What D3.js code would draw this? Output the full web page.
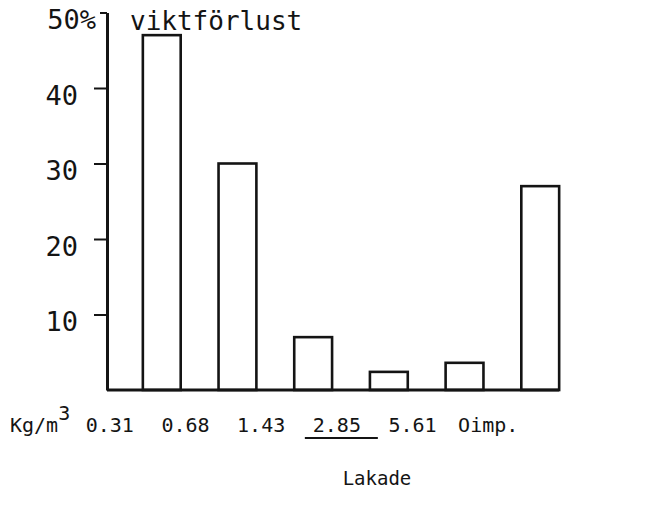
<html>

<head>
    <script src="https://d3js.org/d3.v7.min.js"></script>
    <style>
        body {
            margin: 0;
            background: #fff;
        }
    </style>
</head>

<body>
    <svg width="661" height="519"></svg>

    <script>
        // weight loss (%) per impregnation level
        const categories = ["0.31", "0.68", "1.43", "2.85", "5.61", "Oimp."];
        const weightLoss = [47, 30, 7, 2.4, 3.6, 27];
        const yTicks = [10, 20, 30, 40, 50];

        const svg = d3.select("svg");
        const ink = "#141414";
        const mono = "'DejaVu Sans Mono', monospace";
        const axisX = 107;

        const xScale = d3.scaleBand().domain(categories)
                                     .range([105, 597])
                                     .padding(0.5);
        const yScale = d3.scaleLinear().domain([0, 50])
                                       .range([390, 12.5]);

        // open bars
        svg.append("g")
            .selectAll("rect")
            .data(categories)
            .join("rect")
            .attr("x", d => xScale(d))
            .attr("y", (d, i) => yScale(weightLoss[i]))
            .attr("width", xScale.bandwidth())
            .attr("height", (d, i) => yScale(0) - yScale(weightLoss[i]))
            .attr("fill", "none")
            .attr("stroke", ink)
            .attr("stroke-width", 2.6);

        // baseline runs from the y axis to the last bar
        const last = categories[categories.length - 1];
        svg.append("line")
            .attr("x1", axisX)
            .attr("x2", xScale(last) + xScale.bandwidth())
            .attr("y1", yScale(0))
            .attr("y2", yScale(0))
            .attr("stroke", ink)
            .attr("stroke-width", 3);

        let leftAxis = d3.axisLeft(yScale)
            .tickValues(yTicks)
            .tickSize(13)
            .tickSizeOuter(0)
            .tickFormat(d => d === 50 ? "50%" : d);
        let gy = svg.append("g")
            .attr("transform", `translate(${axisX},0)`)
            .call(leftAxis);
        gy.select(".domain").attr("stroke", ink).attr("stroke-width", 3);
        gy.selectAll(".tick line")
            .attr("stroke", ink)
            .attr("stroke-width", 2)
            .attr("x2", d => d === 50 ? -7 : -13);
        gy.selectAll(".tick text")
            .attr("font-family", mono)
            .attr("font-size", 27)
            .attr("fill", ink)
            .attr("dy", "0.6em")
            .attr("x", d => d === 50 ? -11 : -29);

        svg.append("text")
            .attr("x", 130)
            .attr("y", 30)
            .attr("font-family", mono)
            .attr("font-size", 26)
            .attr("fill", ink)
            .text("viktförlust");

        let bottomAxis = d3.axisBottom(xScale).tickSize(0);
        let gx = svg.append("g")
            .attr("transform", `translate(0,${yScale(0)})`)
            .call(bottomAxis);
        gx.select(".domain").remove();
        gx.selectAll(".tick text")
            .attr("font-family", mono)
            .attr("font-size", 20)
            .attr("fill", ink)
            .attr("dy", null)
            .attr("y", 42)
            .attr("dx", -52);

        // typed underline under 2.85
        gx.selectAll(".tick")
            .filter(d => d === "2.85")
            .append("line")
            .attr("x1", -84)
            .attr("x2", -11)
            .attr("y1", 48)
            .attr("y2", 48)
            .attr("stroke", ink)
            .attr("stroke-width", 2);

        let unit = svg.append("text")
            .attr("x", 10)
            .attr("y", 432)
            .attr("font-family", mono)
            .attr("font-size", 20)
            .attr("fill", ink);
        unit.append("tspan").text("Kg/m");
        unit.append("tspan").attr("dy", -12).text("3");

        svg.append("text")
            .attr("x", 377)
            .attr("y", 485)
            .attr("text-anchor", "middle")
            .attr("font-family", mono)
            .attr("font-size", 19)
            .attr("fill", ink)
            .text("Lakade");
    </script>
</body>

</html>
